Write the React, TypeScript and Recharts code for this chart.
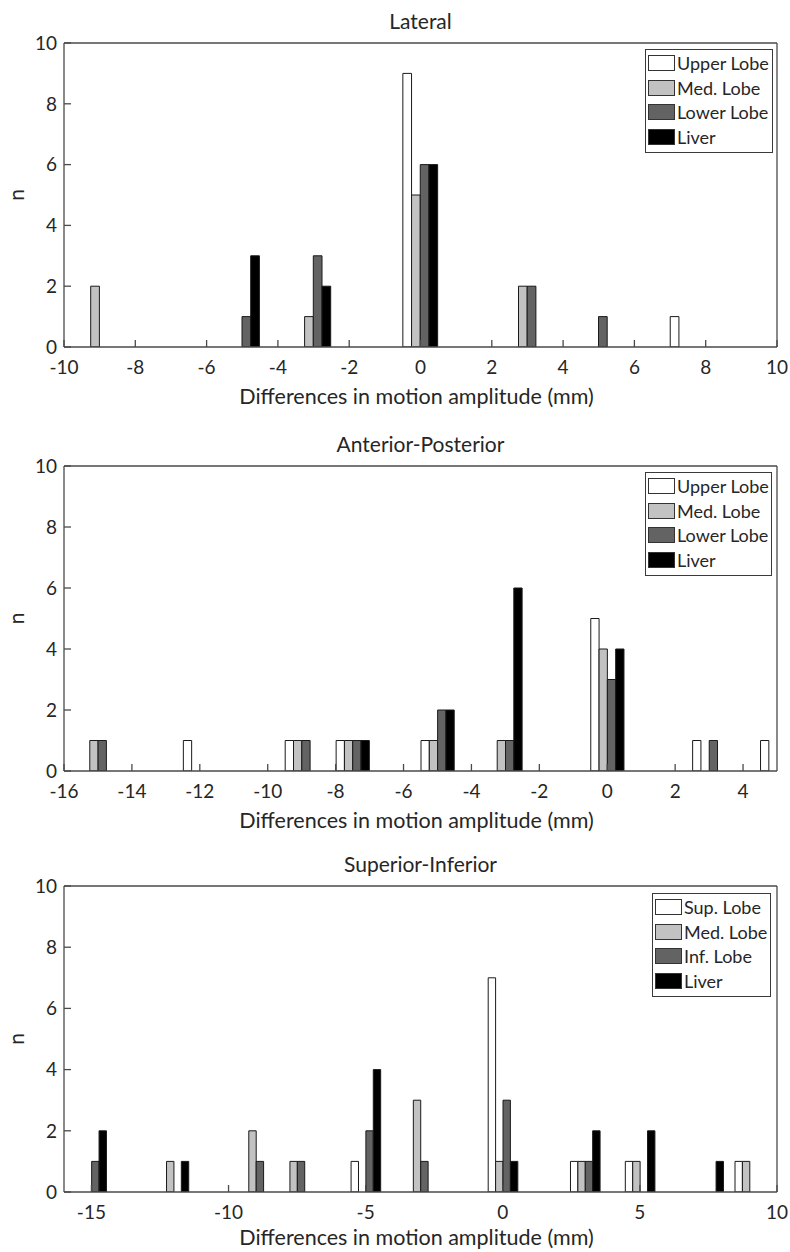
import React from 'react';
import { BarChart, Bar, XAxis, YAxis, Legend } from 'recharts';

// ---------- Data ----------
const LAT_BINS = [-9, -5, -3, 0, 3, 5, 7.5];
const LAT_UPPER = [0, 0, 0, 9, 0, 0, 1];
const LAT_MED = [2, 0, 1, 5, 2, 0, 0];
const LAT_LOWER = [0, 1, 3, 6, 2, 1, 0];
const LAT_LIVER = [0, 3, 2, 6, 0, 0, 0];
const LAT_XTICKS = [-10, -8, -6, -4, -2, 0, 2, 4, 6, 8, 10];

const AP_BINS = [-15, -12, -9, -7.5, -5, -3, 0, 3, 5];
const AP_UPPER = [0, 1, 1, 1, 1, 0, 5, 1, 1];
const AP_MED = [1, 0, 1, 1, 1, 1, 4, 0, 0];
const AP_LOWER = [1, 0, 1, 1, 2, 1, 3, 1, 0];
const AP_LIVER = [0, 0, 0, 1, 2, 6, 4, 0, 0];
const AP_XTICKS = [-16, -14, -12, -10, -8, -6, -4, -2, 0, 2, 4];

const SI_BINS = [-15, -12, -9, -7.5, -5, -3, 0, 3, 5, 7.5, 9];
const SI_SUP = [0, 0, 0, 0, 1, 0, 7, 1, 1, 0, 1];
const SI_MED = [0, 1, 2, 1, 0, 3, 1, 1, 1, 0, 1];
const SI_INF = [1, 0, 1, 1, 2, 1, 3, 1, 0, 0, 0];
const SI_LIVER = [2, 1, 0, 0, 4, 0, 1, 2, 2, 1, 0];
const SI_XTICKS = [-15, -10, -5, 0, 5, 10];

const Y_TICKS = [0, 2, 4, 6, 8, 10];
const LUNG_LABELS = ['Upper Lobe', 'Med. Lobe', 'Lower Lobe', 'Liver'];
const SI_LABELS = ['Sup. Lobe', 'Med. Lobe', 'Inf. Lobe', 'Liver'];
const FILLS = ['#ffffff', '#c2c2c2', '#636363', '#000000'];
const X_LABEL = 'Differences in motion amplitude (mm)';

const FONT = 'Lato, "Open Sans", sans-serif';
const TEXT = '#262626';
const AXIS = '#4a4a4a';
const KEYS = ['s0', 's1', 's2', 's3'];

function buildRows(bins: number[], series: number[][]) {
  return bins.map((x, i) => {
    const row: any = { x };
    series.forEach((s, k) => {
      row[KEYS[k]] = s[i];
    });
    return row;
  });
}

type PanelProps = {
  top: number;
  height: number;
  marginTop: number;
  marginBottom: number;
  labelOffset: number;
  title: string;
  bins: number[];
  series: number[][];
  labels: string[];
  domain: [number, number];
  xticks: number[];
  barSize: number;
  legendTop: number;
  legendLeft: number;
  legendWidth: number;
};

function LegendBox({ labels, width }: { labels: string[]; width: number }) {
  return (
    <div
      style={{
        width,
        height: 104,
        border: '1px solid #3a3a3a',
        background: '#fff',
        boxSizing: 'border-box',
        paddingTop: 1,
        fontFamily: FONT,
      }}
    >
      {labels.map((l, i) => (
        <div key={l} style={{ display: 'flex', alignItems: 'center', height: 24.6 }}>
          <div
            style={{
              width: 27,
              height: 16,
              marginLeft: 2,
              background: FILLS[i],
              border: '1.5px solid #333',
              boxSizing: 'border-box',
            }}
          />
          <span style={{ marginLeft: 2, fontSize: 18, color: TEXT, lineHeight: '18px' }}>{l}</span>
        </div>
      ))}
    </div>
  );
}

function Panel(p: PanelProps) {
  const rows = buildRows(p.bins, p.series);
  const tickStyle = { fill: TEXT, fontSize: 19, fontFamily: FONT };
  return (
    <div style={{ position: 'absolute', top: p.top, left: 0 }}>
      <BarChart
        width={790}
        height={p.height}
        data={rows}
        margin={{ top: p.marginTop - 1, right: 12, left: 0, bottom: p.marginBottom }}
        barGap={0}
        barCategoryGap={0}
      >
        <XAxis
          xAxisId="b"
          dataKey="x"
          type="number"
          domain={p.domain}
          ticks={p.xticks}
          allowDataOverflow
          interval={0}
          height={60}
          tickSize={-7}
          tickMargin={21}
          tick={tickStyle}
          axisLine={{ stroke: AXIS, strokeWidth: 1.3 }}
          tickLine={{ stroke: AXIS, strokeWidth: 1.3 }}
          label={{ value: X_LABEL, position: 'insideBottom', offset: p.labelOffset, dx: -4, fill: TEXT, fontSize: 21.5, fontFamily: FONT }}
        />
        <XAxis
          xAxisId="t"
          orientation="top"
          dataKey="x"
          type="number"
          domain={p.domain}
          ticks={p.xticks}
          allowDataOverflow
          interval={0}
          height={1}
          tickSize={-7}
          tick={false}
          axisLine={{ stroke: AXIS, strokeWidth: 1.3 }}
          tickLine={{ stroke: AXIS, strokeWidth: 1.3 }}
          label={{ value: p.title, position: 'top', offset: 13, fill: TEXT, fontSize: 21, fontFamily: FONT }}
        />
        <YAxis
          yAxisId="l"
          type="number"
          domain={[0, 10]}
          ticks={Y_TICKS}
          allowDataOverflow
          interval={0}
          width={64}
          tickSize={-7}
          tickMargin={14}
          tick={tickStyle}
          axisLine={{ stroke: AXIS, strokeWidth: 1.3 }}
          tickLine={{ stroke: AXIS, strokeWidth: 1.3 }}
          label={{ value: 'n', angle: -90, position: 'center', dx: -15, fill: TEXT, fontSize: 21, fontFamily: FONT }}
        />
        <YAxis
          yAxisId="r"
          orientation="right"
          type="number"
          domain={[0, 10]}
          ticks={Y_TICKS}
          allowDataOverflow
          interval={0}
          width={1}
          tickSize={-7}
          tick={false}
          axisLine={{ stroke: AXIS, strokeWidth: 1.3 }}
          tickLine={{ stroke: AXIS, strokeWidth: 1.3 }}
        />
        {KEYS.map((k, i) => (
          <Bar
            key={k}
            xAxisId="b"
            yAxisId="l"
            dataKey={k}
            name={p.labels[i]}
            fill={FILLS[i]}
            stroke="#1a1a1a"
            strokeWidth={1}
            barSize={p.barSize}
            isAnimationActive={false}
          />
        ))}
        <Legend
          layout="vertical"
          align="center"
          verticalAlign="middle"
          wrapperStyle={{ top: p.legendTop, left: p.legendLeft, width: p.legendWidth, height: 104 }}
          content={() => <LegendBox labels={p.labels} width={p.legendWidth} />}
        />
      </BarChart>
    </div>
  );
}

export default function App() {
  return (
    <div style={{ position: 'absolute', left: 0, top: 0, width: 790, height: 1252, background: '#fff' }}>
      <Panel
        top={0}
        height={420}
        marginTop={43}
        marginBottom={13}
        labelOffset={3}
        title="Lateral"
        bins={LAT_BINS}
        series={[LAT_UPPER, LAT_MED, LAT_LOWER, LAT_LIVER]}
        labels={LUNG_LABELS}
        domain={[-10, 10]}
        xticks={LAT_XTICKS}
        barSize={8.7}
        legendTop={49}
        legendLeft={645}
        legendWidth={128}
      />
      <Panel
        top={420}
        height={420}
        marginTop={46}
        marginBottom={9}
        labelOffset={3}
        title="Anterior-Posterior"
        bins={AP_BINS}
        series={[AP_UPPER, AP_MED, AP_LOWER, AP_LIVER]}
        labels={LUNG_LABELS}
        domain={[-16, 5]}
        xticks={AP_XTICKS}
        barSize={8.3}
        legendTop={52}
        legendLeft={645}
        legendWidth={127}
      />
      <Panel
        top={840}
        height={412}
        marginTop={46}
        marginBottom={0}
        labelOffset={7}
        title="Superior-Inferior"
        bins={SI_BINS}
        series={[SI_SUP, SI_MED, SI_INF, SI_LIVER]}
        labels={SI_LABELS}
        domain={[-16, 10]}
        xticks={SI_XTICKS}
        barSize={7.4}
        legendTop={53}
        legendLeft={652}
        legendWidth={119}
      />
    </div>
  );
}
